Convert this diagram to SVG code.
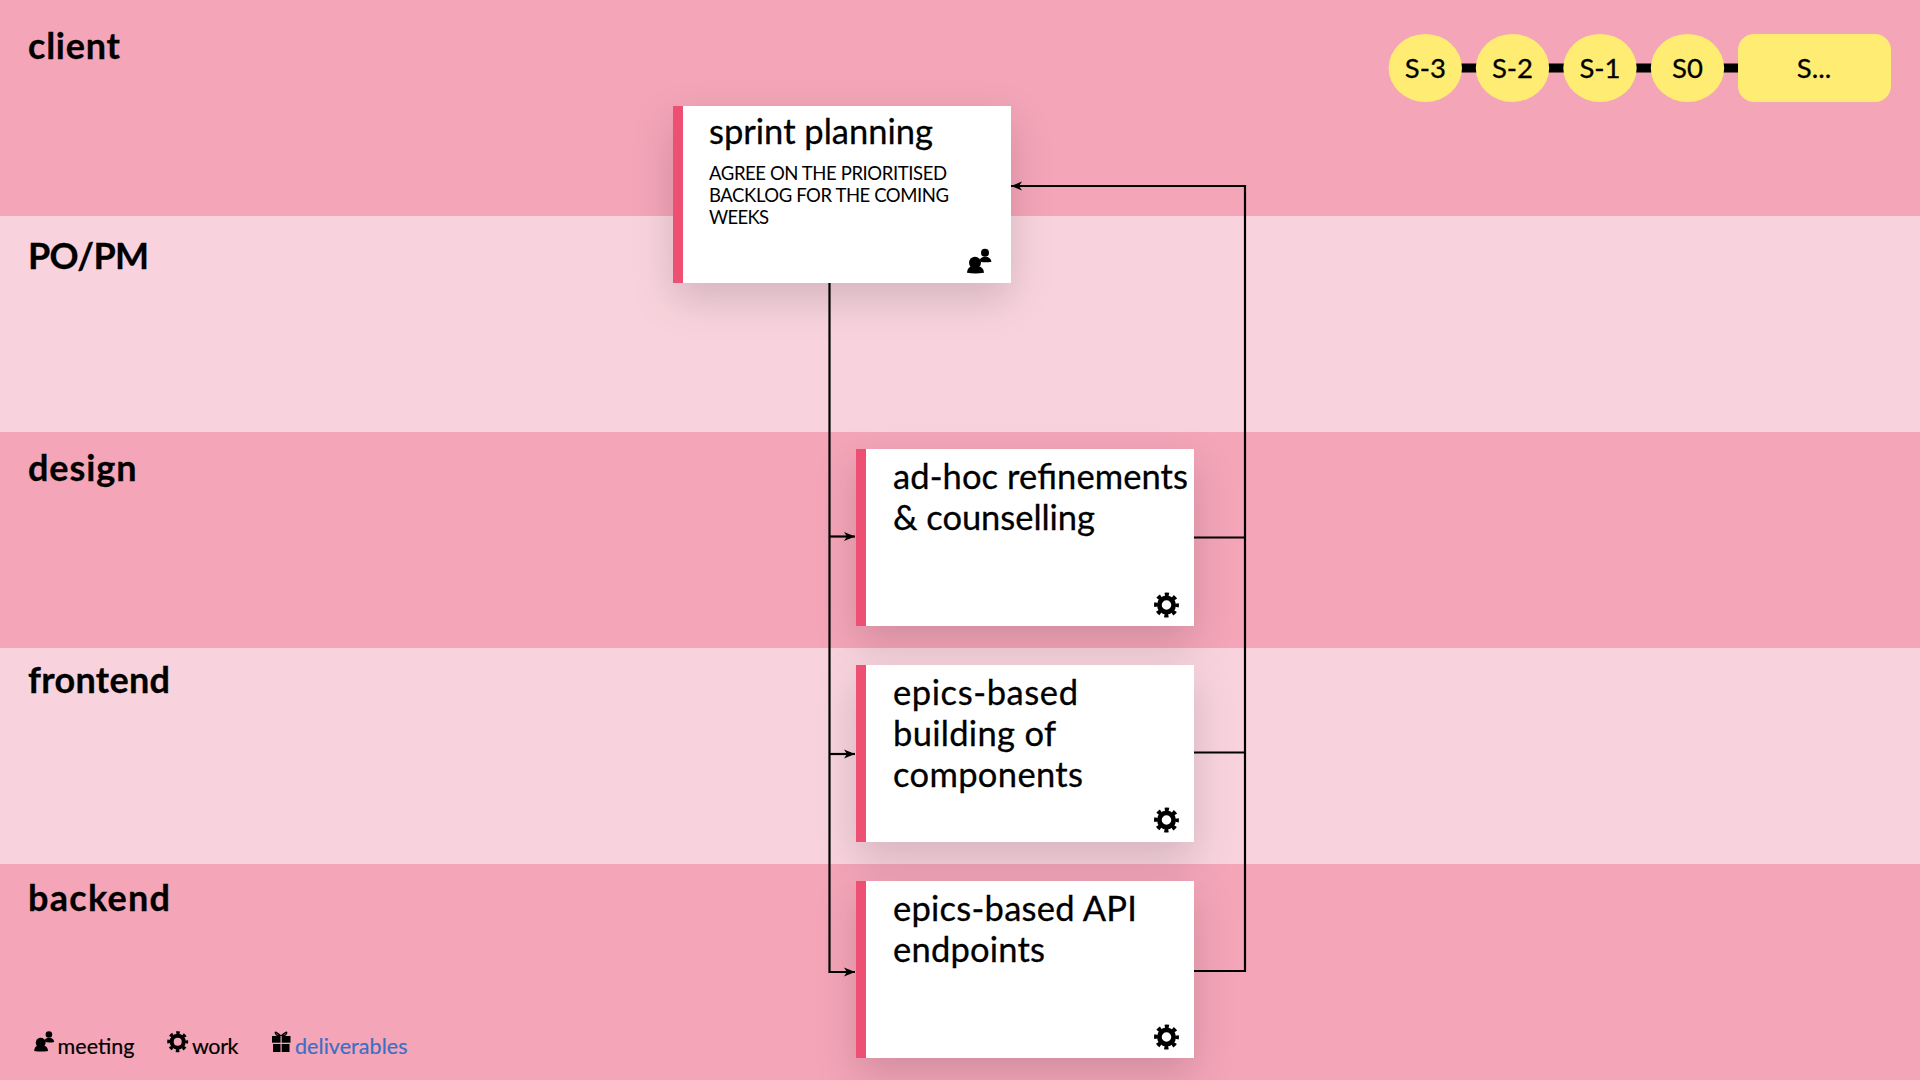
<svg xmlns="http://www.w3.org/2000/svg" width="1920" height="1080" viewBox="0 0 1920 1080">
<style>
text{font-family:"Lato","Liberation Sans",sans-serif;fill:#000}
.dark{fill:#F4A5B8}.light{fill:#F8D3DD}
.lane{font-size:36px;font-weight:700;stroke:#000;stroke-width:.3}
.card{fill:#fff}.accent{fill:#EE5074}
.title{font-size:34.5px;stroke:#000;stroke-width:.3}
.sub{font-size:18.5px}
.tl{fill:#FFEC73}.tt{font-size:27.5px;text-anchor:middle;stroke:#000;stroke-width:.3}
.leg{font-size:21.5px;stroke:#000;stroke-width:.2}
.c{fill:none;stroke:#000;stroke-width:2.2}
.ca{fill:none;stroke:#000;stroke-width:2.2;marker-end:url(#arr)}
</style>
<defs>
<filter id="sh" x="-40%" y="-50%" width="180%" height="200%"><feDropShadow dx="0" dy="16" stdDeviation="20" flood-color="#000" flood-opacity="0.15"/></filter>
<marker id="arr" markerWidth="12" markerHeight="10" refX="11" refY="5" orient="auto" markerUnits="userSpaceOnUse"><path d="M0 .5 L11 5 L0 9.5 L3 5Z" fill="#000"/></marker>
<g id="gear"><circle r="7.5" fill="none" stroke="#000" stroke-width="5"/><circle r="11.2" fill="none" stroke="#000" stroke-width="3.8" stroke-dasharray="4.4 4.4" stroke-dashoffset="2.2"/></g>
<g id="people"><circle cx="10" cy="-10" r="4"/><path d="M4.5 -1.5 Q5 -6 10 -6 Q15.5 -6 16.5 -1 Q12 0 7.5 -.5Z"/><circle cx="0" cy="0" r="6"/><path d="M-8 10 Q-7.5 4 -3 3.5 L3 3.5 Q8.5 4 9 10 Q0 11.5 -8 10Z"/></g>
</defs>
<g id="lanes">
<rect class="dark" x="0" y="0" width="1920" height="216"/>
<rect class="light" x="0" y="216" width="1920" height="216"/>
<rect class="dark" x="0" y="432" width="1920" height="216"/>
<rect class="light" x="0" y="648" width="1920" height="216"/>
<rect class="dark" x="0" y="864" width="1920" height="216"/>
<text class="lane" x="28" y="59" textLength="92">client</text>
<text class="lane" x="28" y="269" textLength="121">PO/PM</text>
<text class="lane" x="28" y="481" textLength="108.5">design</text>
<text class="lane" x="28" y="693" textLength="142">frontend</text>
<text class="lane" x="28" y="911" textLength="142">backend</text>
</g>
<g id="timeline">
<path d="M1450 68H1740" stroke="#000" stroke-width="9" fill="none"/>
<g id="s-3"><ellipse class="tl" cx="1425.3" cy="68" rx="36.7" ry="34"/><text class="tt" x="1425.3" y="78">S-3</text></g>
<g id="s-2"><ellipse class="tl" cx="1512.5" cy="68" rx="36.7" ry="34"/><text class="tt" x="1512.5" y="78">S-2</text></g>
<g id="s-1"><ellipse class="tl" cx="1600" cy="68" rx="36.7" ry="34"/><text class="tt" x="1600" y="78">S-1</text></g>
<g id="s0"><ellipse class="tl" cx="1687.5" cy="68" rx="36.7" ry="34"/><text class="tt" x="1687.5" y="78">S0</text></g>
<g id="sn"><rect class="tl" x="1738" y="34" width="153" height="68" rx="16"/><text class="tt" x="1814" y="78">S...</text></g>
</g>
<g id="sprint-planning">
<rect class="card" x="673" y="106" width="338" height="177" filter="url(#sh)"/>
<rect class="accent" x="673" y="106" width="10" height="177"/>
<text class="title" x="709" y="144" textLength="224">sprint planning</text>
<text class="sub" x="709" y="179.5" textLength="238">AGREE ON THE PRIORITISED</text>
<text class="sub" x="709" y="201.5" textLength="240">BACKLOG FOR THE COMING</text>
<text class="sub" x="709" y="223.5" textLength="60">WEEKS</text>
<use href="#people" x="975" y="262.7"/>
</g>
<g id="adhoc">
<rect class="card" x="856" y="449" width="338" height="177" filter="url(#sh)"/>
<rect class="accent" x="856" y="449" width="10" height="177"/>
<text class="title" x="893" y="488.5" textLength="295">ad-hoc refinements</text>
<text class="title" x="893" y="529.5" textLength="202">&amp; counselling</text>
<use href="#gear" transform="translate(1166.5 605) scale(.95)"/>
</g>
<g id="epics-components">
<rect class="card" x="856" y="665" width="338" height="177" filter="url(#sh)"/>
<rect class="accent" x="856" y="665" width="10" height="177"/>
<text class="title" x="893" y="704.5" textLength="185">epics-based</text>
<text class="title" x="893" y="745.5" textLength="163">building of</text>
<text class="title" x="893" y="786.5" textLength="190">components</text>
<use href="#gear" transform="translate(1166.5 820) scale(.95)"/>
</g>
<g id="epics-api">
<rect class="card" x="856" y="881" width="338" height="177" filter="url(#sh)"/>
<rect class="accent" x="856" y="881" width="10" height="177"/>
<text class="title" x="893" y="920.5" textLength="244">epics-based API</text>
<text class="title" x="893" y="961.5" textLength="152">endpoints</text>
<use href="#gear" transform="translate(1166.5 1037) scale(.95)"/>
</g>
<g id="connectors">
<path class="ca" d="M829.5 283V972H855"/>
<path class="ca" d="M829.5 536.5H855"/>
<path class="ca" d="M829.5 754H855"/>
<path class="ca" d="M1245 972V186H1011"/>
<path class="c" d="M1194 537.5H1245"/>
<path class="c" d="M1194 752.5H1245"/>
<path class="c" d="M1194 971H1246"/>
</g>
<g id="legend">
<use href="#people" transform="translate(40.7 1042.7) scale(.82)"/>
<text class="leg" x="57.5" y="1054" textLength="77">meeting</text>
<use href="#gear" transform="translate(177.7 1041.7) scale(.8)"/>
<text class="leg" x="192" y="1054" textLength="46.5">work</text>
<g id="gift"><rect x="272" y="1036" width="18.5" height="6.7"/><rect x="273" y="1044" width="16.5" height="8"/><path d="M281 1036 Q274 1030 275.5 1033.5 Q276.5 1036 281 1036 Q288 1030 286.5 1033.5 Q285.5 1036 281 1036" fill="none" stroke="#000" stroke-width="1.3"/><rect x="280.5" y="1036" width="1.2" height="16" fill="#F4A5B8"/></g>
<text class="leg" x="295" y="1054" textLength="112.5" style="fill:#3B6FC4;stroke:#3B6FC4">deliverables</text>
</g>
</svg>
